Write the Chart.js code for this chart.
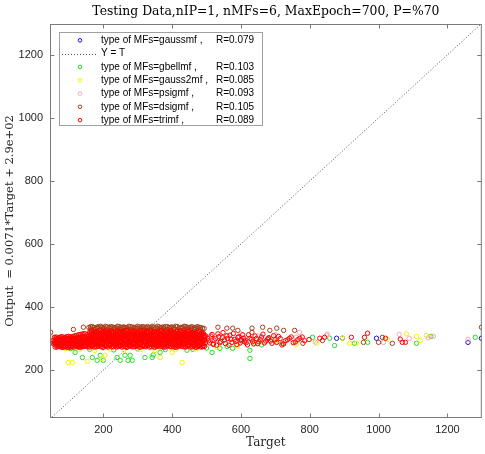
<!DOCTYPE html>
<html><head><meta charset="utf-8">
<script src="https://cdn.jsdelivr.net/npm/chart.js@4/dist/chart.umd.min.js"></script>
<style>html,body{margin:0;padding:0;background:#fff;}canvas{display:block;}</style>
</head><body>
<canvas id="c" width="485" height="454"></canvas>
<script>
const titleText = 'Testing Data,nIP=1, nMFs=6, MaxEpoch=700, P=%70';
const xTitle = 'Target';
const yTitle = 'Output  = 0.0071*Target + 2.9e+02';
const mfNames = ['gaussmf', 'gbellmf', 'gauss2mf', 'psigmf', 'dsigmf', 'trimf'];
const rValues = ['0.079', '0.103', '0.085', '0.093', '0.105', '0.089'];
const lineLabel = 'Y = T';
const xTicks = [200, 400, 600, 800, 1000, 1200];
const yTicks = [200, 400, 600, 800, 1000, 1200];
const xRange = [45, 1300];
const yRange = [48, 1298];
const identityX = [0, 1400];
const identityY = [0, 1400];

const gaussmfX = [46, 150, 250, 350, 450, 600, 700, 878, 895, 994, 1260, 1299];
const gaussmfY = [285, 295, 300, 290, 305, 296, 290, 301, 301, 301, 288, 301];

const gbellmfX = [118, 139, 168, 182, 191, 200, 240, 249, 263, 272, 284, 278, 321, 342, 345, 365, 443, 516, 539, 576, 626, 626, 105, 160, 230, 300, 380, 460, 500, 560, 660, 720, 808, 858, 872, 930, 968, 1110, 1152, 1281];
const gbellmfY = [256, 240, 240, 231, 247, 231, 240, 231, 247, 231, 231, 247, 240, 240, 248, 256, 263, 256, 269, 269, 263, 237, 268, 266, 264, 267, 265, 266, 270, 275, 280, 285, 304, 301, 278, 285, 288, 285, 307, 304];

const gauss2mfX = [48, 50, 52, 70, 90, 98, 110, 130, 153, 175, 197, 205, 220, 260, 310, 350, 365, 400, 410, 429, 470, 530, 590, 640, 700, 760, 820, 895, 916, 936, 1025, 1081, 1110, 1121, 1139];
const gauss2mfY = [292, 300, 285, 280, 268, 224, 224, 265, 228, 262, 237, 247, 266, 263, 266, 262, 240, 256, 265, 224, 267, 272, 276, 285, 290, 282, 285, 301, 285, 285, 298, 315, 307, 294, 310];

const psigmfX = [50, 55, 62, 75, 120, 200, 280, 380, 470, 600, 650, 700, 760, 770, 816, 849, 851, 1014, 1060, 1089, 1144, 1159, 1260];
const psigmfY = [305, 295, 300, 290, 280, 270, 275, 272, 278, 315, 308, 312, 305, 320, 289, 310, 314, 288, 313, 301, 302, 307, 298];

const dsigmfX = [158, 168, 178, 187, 197, 206, 216, 226, 236, 245, 255, 265, 274, 284, 294, 304, 313, 323, 333, 342, 352, 362, 371, 381, 391, 400, 410, 420, 430, 439, 449, 459, 468, 478, 488,
  163, 173, 183, 192, 202, 211, 221, 231, 241, 250, 260, 270, 279, 289, 299, 309, 318, 328, 338, 347, 357, 367, 376, 386, 396, 405, 415, 425, 435, 444, 454, 464, 473, 483,
  163, 173, 183, 192, 202, 211, 221, 231, 241, 250, 260, 270, 279, 289, 299, 309, 318, 328, 338, 347, 357, 367, 376, 386, 396, 405, 415, 425, 435, 444, 454, 464, 473, 483, 493,
  47, 113, 142, 533, 559, 576, 591, 632, 632, 663, 684, 704, 724, 756, 520, 610, 680, 780, 837, 956, 1000, 1011, 1040, 1299];
const dsigmfY = [335, 338, 334, 337, 336, 339, 335, 337, 334, 338, 336, 335, 339, 336, 334, 337, 338, 335, 336, 339, 334, 337, 336, 338, 335, 337, 339, 334, 336, 338, 335, 337, 334, 336, 333,
  331, 329, 332, 330, 331, 328, 332, 330, 331, 329, 332, 330, 328, 331, 332, 330, 329, 331, 330, 328, 332, 330, 331, 329, 331, 330, 328, 332, 330, 329, 331, 330, 332, 328,
  338, 335, 337, 339, 334, 337, 338, 335, 339, 336, 337, 334, 338, 336, 339, 335, 337, 338, 334, 336, 339, 335, 337, 338, 336, 334, 338, 335, 339, 336, 337, 334, 338, 335, 332,
  320, 329, 336, 336, 333, 333, 326, 333, 320, 336, 326, 333, 326, 326, 283, 290, 300, 285, 294, 288, 288, 304, 285, 336];

const trimfX = [
  161, 172, 180, 193, 201, 212, 219, 231, 240, 252, 259, 270, 281, 290, 302, 309, 320, 331, 339, 350, 362, 369, 381, 390, 398, 411, 419, 432, 440, 449, 461, 470, 479, 491,
  166, 176, 186, 197, 206, 216, 224, 236, 246, 256, 264, 276, 286, 295, 306, 314, 325, 336, 344, 355, 366, 374, 386, 395, 403, 416, 424, 437, 445, 454, 466, 474, 484,
  165, 176, 186, 196, 206, 216, 225, 235, 245, 255, 265, 275, 285, 295, 305, 315, 325, 335, 345, 355, 365, 375, 385, 395, 405, 415, 425, 435, 445, 455, 465, 475, 485,
  160, 171, 181, 191, 201, 211, 220, 230, 240, 250, 260, 270, 280, 290, 300, 310, 320, 330, 340, 350, 360, 370, 380, 390, 400, 410, 420, 430, 440, 450, 460, 470, 480, 490,
  158, 168, 177, 189, 198, 208, 218, 227, 238, 247, 258, 267, 276, 288, 297, 306, 317, 328, 336, 347, 357, 368, 377, 388, 397, 408, 416, 427, 438, 446, 458, 467, 478, 488, 497,
  163, 173, 182, 194, 203, 213, 223, 232, 243, 252, 263, 272, 281, 293, 302, 311, 322, 333, 341, 352, 362, 373, 382, 393, 402, 413, 421, 432, 443, 451, 463, 472, 483, 493,
  160, 170, 181, 190, 200, 210, 220, 230, 240, 250, 260, 270, 280, 290, 300, 310, 320, 330, 340, 350, 360, 370, 380, 390, 400, 410, 420, 430, 440, 450, 460, 470, 480, 490,
  155, 165, 176, 185, 195, 205, 215, 225, 235, 245, 255, 265, 275, 285, 295, 305, 315, 325, 335, 345, 355, 365, 375, 385, 395, 405, 415, 425, 435, 445, 455, 465, 475, 485, 495,
  155, 164, 175, 185, 194, 205, 215, 224, 235, 245, 254, 264, 275, 285, 294, 304, 314, 325, 334, 344, 355, 364, 374, 384, 394, 405, 414, 424, 434, 444, 455, 464, 474, 485, 495,
  160, 169, 180, 190, 199, 210, 220, 229, 240, 250, 259, 269, 280, 290, 299, 309, 319, 330, 339, 349, 360, 369, 379, 389, 399, 410, 419, 429, 439, 449, 460, 469, 479, 490,
  157, 167, 178, 187, 197, 208, 217, 227, 237, 247, 257, 268, 278, 287, 297, 307, 317, 327, 337, 347, 357, 367, 377, 387, 397, 407, 417, 427, 437, 447, 457, 467, 477, 487,
  152, 162, 173, 182, 192, 203, 212, 222, 232, 242, 252, 263, 273, 282, 292, 302, 312, 322, 332, 342, 352, 362, 372, 382, 392, 402, 412, 422, 432, 442, 452, 462, 472, 482, 492,
  152, 162, 171, 182, 191, 201, 212, 221, 232, 242, 251, 262, 271, 282, 291, 301, 311, 322, 331, 341, 352, 361, 371, 381, 391, 402, 411, 421, 431, 441, 452, 461, 471, 482, 492,
  157, 167, 176, 187, 196, 206, 217, 226, 237, 247, 256, 267, 276, 287, 296, 306, 316, 327, 336, 346, 357, 366, 376, 386, 396, 407, 416, 426, 436, 446, 457, 466, 476, 487, 497,
  155, 165, 175, 185, 195, 205, 215, 225, 235, 245, 255, 265, 275, 285, 295, 305, 315, 325, 335, 345, 355, 365, 375, 385, 395, 405, 415, 425, 435, 445, 455, 465, 475, 485,
  150, 160, 170, 180, 190, 200, 210, 220, 230, 240, 250, 260, 270, 280, 290, 300, 310, 320, 330, 340, 350, 360, 370, 380, 390, 400, 410, 420, 430, 440, 450, 460, 470, 480, 490,
  150, 160, 169, 179, 189, 199, 209, 219, 229, 239, 249, 259, 269, 279, 289, 299, 309, 319, 329, 339, 349, 359, 369, 379, 389, 399, 409, 419, 429, 439, 449, 459, 469, 479, 489,
  155, 165, 174, 184, 194, 204, 214, 224, 234, 244, 254, 264, 274, 284, 294, 304, 314, 324, 334, 344, 354, 364, 374, 384, 394, 404, 414, 424, 434, 444, 454, 464, 474, 484, 494,
  58, 68, 78, 88, 98, 108, 118, 128, 138, 146,
  63, 73, 83, 93, 103, 113, 123, 133, 142,
  62, 72, 83, 93, 103, 113, 123, 133, 142,
  67, 77, 88, 98, 108, 118, 128, 138, 147,
  54, 63, 73, 83, 93, 103, 113, 123, 133, 143,
  59, 68, 78, 88, 98, 108, 118, 128, 138, 148,
  58, 68, 78, 88, 98, 108, 118, 128, 138, 148,
  63, 73, 83, 93, 103, 113, 123, 133, 143,
  56, 66, 76, 86, 96, 106, 116, 126, 136, 145,
  61, 71, 81, 91, 101, 111, 121, 131, 141, 150,
  64, 75, 85, 95, 105, 115, 125, 135, 145,
  69, 80, 90, 100, 110, 120, 130, 140,
  60, 70, 80, 90, 100, 110, 120, 130, 140,
  65, 75, 85, 95, 105, 115, 125, 135, 145,
  503, 509, 516, 522, 529, 536, 541, 548, 555, 561, 568, 574, 581, 588, 594, 601, 608, 615, 622, 630,
  637, 645, 652, 660, 668, 677, 686, 695, 704, 714, 724, 735, 746, 758, 771, 785, 798, 829, 843, 921,
  959, 968, 1020, 1063, 1069, 1078,
  506, 513, 519, 526, 533, 539, 546, 552, 559, 565, 571, 578, 585, 591, 598, 605, 612, 619, 626, 634,
  641, 649, 656, 664, 672, 681, 690, 699, 709, 719, 729, 741, 752, 765, 778];
const trimfY = [
  322, 324, 321, 325, 323, 320, 324, 322, 325, 321, 323, 326, 322, 324, 320, 323, 325, 321, 324, 322, 320, 325, 323, 321, 324, 322, 319, 323, 321, 325, 320, 318, 322, 316,
  324, 321, 323, 322, 325, 322, 321, 324, 322, 323, 325, 320, 323, 322, 324, 321, 322, 324, 320, 323, 325, 321, 322, 324, 320, 323, 325, 320, 322, 319, 317, 320, 318,
  316, 318, 315, 319, 317, 314, 318, 316, 319, 315, 317, 320, 316, 318, 314, 317, 319, 315, 318, 316, 314, 319, 317, 315, 318, 316, 313, 317, 315, 319, 314, 312, 316,
  318, 315, 317, 316, 319, 316, 314, 318, 315, 317, 319, 315, 317, 316, 318, 315, 317, 319, 315, 316, 318, 314, 316, 318, 315, 317, 315, 318, 316, 314, 317, 315, 313, 315,
  311, 309, 313, 310, 312, 308, 311, 314, 310, 309, 312, 311, 308, 313, 310, 312, 309, 311, 314, 310, 308, 312, 311, 309, 313, 310, 312, 308, 311, 309, 313, 310, 307, 311, 309,
  310, 312, 309, 311, 309, 313, 310, 309, 312, 311, 308, 310, 313, 309, 311, 308, 312, 310, 309, 312, 311, 309, 310, 312, 308, 311, 309, 313, 310, 312, 309, 311, 313, 310,
  305, 303, 307, 304, 306, 302, 305, 308, 304, 303, 306, 305, 302, 307, 304, 306, 303, 305, 308, 304, 302, 306, 305, 303, 307, 304, 306, 302, 305, 303, 307, 304, 301, 305,
  306, 304, 305, 307, 303, 305, 304, 306, 303, 305, 304, 307, 305, 303, 306, 304, 307, 303, 305, 306, 304, 303, 306, 305, 304, 307, 303, 305, 306, 304, 302, 306, 305, 303, 304,
  299, 301, 298, 300, 297, 302, 299, 296, 300, 298, 301, 299, 297, 302, 300, 298, 299, 301, 297, 300, 298, 302, 299, 297, 300, 301, 298, 299, 302, 297, 300, 298, 301, 299, 296,
  298, 300, 301, 297, 300, 299, 301, 298, 297, 300, 299, 301, 300, 297, 298, 301, 300, 298, 300, 299, 297, 300, 301, 298, 299, 297, 301, 300, 298, 301, 299, 300, 297, 298,
  293, 295, 292, 294, 291, 296, 293, 290, 294, 292, 295, 293, 291, 296, 294, 292, 293, 295, 291, 294, 292, 296, 293, 291, 294, 295, 292, 293, 296, 291, 294, 292, 295, 293,
  294, 292, 294, 291, 293, 294, 292, 293, 291, 295, 292, 294, 293, 291, 292, 295, 292, 291, 294, 293, 295, 291, 294, 293, 292, 291, 294, 295, 292, 293, 291, 294, 293, 292, 294,
  287, 285, 288, 286, 289, 284, 287, 290, 286, 285, 288, 287, 284, 289, 286, 288, 285, 287, 290, 286, 284, 288, 287, 285, 289, 286, 284, 288, 287, 285, 289, 286, 284, 288, 286,
  286, 288, 285, 287, 286, 288, 285, 286, 288, 287, 285, 286, 288, 286, 287, 285, 288, 286, 285, 288, 287, 286, 285, 288, 286, 287, 289, 285, 286, 288, 286, 287, 289, 285, 287,
  281, 279, 282, 280, 283, 278, 281, 284, 280, 279, 282, 281, 278, 283, 280, 282, 279, 281, 284, 280, 278, 282, 281, 279, 283, 280, 278, 282, 281, 279, 283, 280, 278, 282,
  280, 282, 279, 281, 280, 282, 279, 281, 282, 280, 279, 281, 282, 280, 281, 279, 282, 280, 279, 281, 282, 280, 279, 281, 282, 280, 281, 279, 282, 280, 279, 281, 282, 280, 278,
  275, 273, 276, 274, 277, 272, 275, 278, 274, 273, 276, 275, 272, 277, 274, 276, 273, 275, 278, 274, 272, 276, 275, 273, 277, 274, 272, 276, 275, 273, 277, 274, 272, 276, 274,
  274, 276, 273, 275, 274, 276, 273, 274, 276, 275, 273, 274, 276, 274, 275, 273, 276, 274, 273, 276, 275, 274, 273, 276, 274, 275, 273, 276, 274, 275, 273, 276, 274, 273, 275,
  304, 302, 306, 303, 307, 305, 309, 312, 314, 316,
  305, 304, 305, 306, 306, 307, 310, 313, 315,
  299, 298, 300, 299, 301, 300, 302, 304, 306,
  298, 299, 299, 300, 300, 301, 303, 305, 308,
  294, 292, 295, 293, 296, 294, 297, 295, 298, 300,
  293, 294, 294, 295, 295, 296, 295, 297, 299, 300,
  288, 289, 287, 289, 288, 290, 288, 289, 291, 292,
  289, 288, 290, 288, 289, 289, 290, 290, 292,
  283, 285, 282, 284, 281, 285, 283, 282, 284, 286,
  283, 284, 283, 283, 284, 283, 284, 283, 285, 287,
  278, 279, 277, 279, 276, 279, 278, 277, 279,
  279, 278, 278, 277, 278, 277, 278, 278,
  273, 275, 272, 274, 271, 273, 276, 272, 274,
  273, 274, 273, 272, 274, 273, 274, 273, 275,
  301, 286, 313, 295, 279, 306, 291, 319, 284, 300, 311, 288, 297, 281, 306, 293, 301, 287, 312, 297,
  283, 300, 290, 305, 286, 298, 292, 309, 288, 300, 283, 296, 305, 289, 301, 293, 297, 301, 304, 304,
  304, 317, 301, 298, 288, 288,
  293, 308, 282, 300, 315, 287, 303, 296, 309, 279, 298, 316, 291, 304, 286, 312, 295, 280, 301, 290,
  308, 284, 297, 314, 292, 303, 285, 296, 307, 280, 293, 301, 287, 296, 305];

const colors = {
  gaussmf: '#1414c8', gbellmf: '#22dd22', gauss2mf: '#f2f200',
  psigmf: '#f0a8b8', dsigmf: '#a0401a', trimf: '#ff0000', line: '#505050'
};

const pts = (xs, ys) => xs.map((x, i) => ({x: x, y: ys[i]}));
const seriesX = [gaussmfX, gbellmfX, gauss2mfX, psigmfX, dsigmfX, trimfX];
const seriesY = [gaussmfY, gbellmfY, gauss2mfY, psigmfY, dsigmfY, trimfY];
const drawOrder = [6, 4, 3, 2, 1, 0];

const datasets = mfNames.map((n, i) => ({
  label: 'type of MFs=' + n + ' ,',
  data: pts(seriesX[i], seriesY[i]),
  borderColor: colors[n],
  backgroundColor: 'rgba(0,0,0,0)',
  pointRadius: 2.2,
  pointBorderWidth: 1,
  pointHoverRadius: 2.2,
  order: drawOrder[i]
}));
datasets.push({
  label: lineLabel,
  data: pts(identityX, identityY),
  showLine: true,
  borderColor: colors.line,
  borderWidth: 1,
  borderDash: [1, 2],
  pointRadius: 0,
  order: 5
});

const frame = {
  id: 'frame',
  afterDraw(chart) {
    const ctx = chart.ctx, a = chart.chartArea;
    const xs = chart.scales.x, ys = chart.scales.y;
    ctx.save();
    ctx.strokeStyle = '#7a7a7a';
    ctx.lineWidth = 1;
    ctx.strokeRect(a.left + 0.5, a.top + 0.5, a.right - a.left - 1, a.bottom - a.top - 1);
    ctx.beginPath();
    const tl = 4.5;
    xTicks.forEach(v => {
      const p = Math.round(xs.getPixelForValue(v)) + 0.5;
      ctx.moveTo(p, a.bottom); ctx.lineTo(p, a.bottom - tl);
      ctx.moveTo(p, a.top); ctx.lineTo(p, a.top + tl);
    });
    yTicks.forEach(v => {
      const p = Math.round(ys.getPixelForValue(v)) + 0.5;
      ctx.moveTo(a.left, p); ctx.lineTo(a.left + tl, p);
      ctx.moveTo(a.right, p); ctx.lineTo(a.right - tl, p);
    });
    ctx.stroke();

    // title
    ctx.fillStyle = '#000';
    ctx.font = '12.4px "DejaVu Serif"';
    ctx.textAlign = 'center';
    ctx.textBaseline = 'middle';
    ctx.fillText(titleText, (a.left + a.right) / 2, 12);

    // legend
    const bx = 59, by = 32, bw = 203, bh = 93;
    ctx.fillStyle = '#fff';
    ctx.fillRect(bx, by, bw, bh);
    ctx.strokeStyle = '#a0a0a0';
    ctx.strokeRect(bx + 0.5, by + 0.5, bw, bh);
    const entries = [];
    entries.push({kind: 'pt', color: colors[mfNames[0]], text: 'type of MFs=' + mfNames[0] + ' ,', r: rValues[0]});
    entries.push({kind: 'line', color: colors.line, text: lineLabel, r: ''});
    for (let i = 1; i < mfNames.length; i++) {
      entries.push({kind: 'pt', color: colors[mfNames[i]], text: 'type of MFs=' + mfNames[i] + ' ,', r: rValues[i]});
    }
    ctx.font = '10px "Liberation Sans"';
    ctx.textAlign = 'left';
    entries.forEach((e, k) => {
      const y = 40.3 + k * 13.3;
      if (e.kind === 'pt') {
        ctx.beginPath();
        ctx.strokeStyle = e.color;
        ctx.lineWidth = 1;
        ctx.arc(80, y, 1.8, 0, Math.PI * 2);
        ctx.stroke();
      } else {
        ctx.beginPath();
        ctx.strokeStyle = e.color;
        ctx.setLineDash([1, 2]);
        ctx.moveTo(62, Math.round(y) + 0.5);
        ctx.lineTo(97, Math.round(y) + 0.5);
        ctx.stroke();
        ctx.setLineDash([]);
      }
      ctx.fillStyle = '#000';
      ctx.fillText(e.text, 101, y);
      if (e.r) ctx.fillText('R=' + e.r, 216, y);
    });
    ctx.restore();
  }
};

new Chart(document.getElementById('c'), {
  type: 'scatter',
  data: {datasets: datasets},
  options: {
    responsive: false,
    animation: false,
    devicePixelRatio: 1,
    layout: {padding: {top: 24, right: 2, left: 0, bottom: 0}},
    plugins: {legend: {display: false}, title: {display: false}, tooltip: {enabled: false}},
    events: [],
    scales: {
      x: {
        type: 'linear', min: xRange[0], max: xRange[1],
        afterFit: s => { s.height = 36; },
        afterBuildTicks: s => { s.ticks = xTicks.map(v => ({value: v})); },
        grid: {display: false, drawTicks: false},
        border: {display: false},
        ticks: {autoSkip: false, maxRotation: 0, padding: 5, color: '#262626', font: {family: 'Liberation Sans', size: 11}, callback: v => String(v)},
        title: {display: true, text: xTitle, color: '#262626', font: {family: 'DejaVu Serif', size: 12}, padding: {top: 0, bottom: 4}}
      },
      y: {
        type: 'linear', min: yRange[0], max: yRange[1],
        afterFit: s => { s.width = 50; },
        afterBuildTicks: s => { s.ticks = yTicks.map(v => ({value: v})); },
        grid: {display: false, drawTicks: false},
        border: {display: false},
        ticks: {autoSkip: false, padding: 7, color: '#262626', font: {family: 'Liberation Sans', size: 11}, callback: v => String(v)},
        title: {display: true, text: yTitle, color: '#262626', font: {family: 'DejaVu Serif', size: 11.5}, padding: {top: 3, bottom: 0}}
      }
    }
  },
  plugins: [frame]
});
</script>
</body></html>
